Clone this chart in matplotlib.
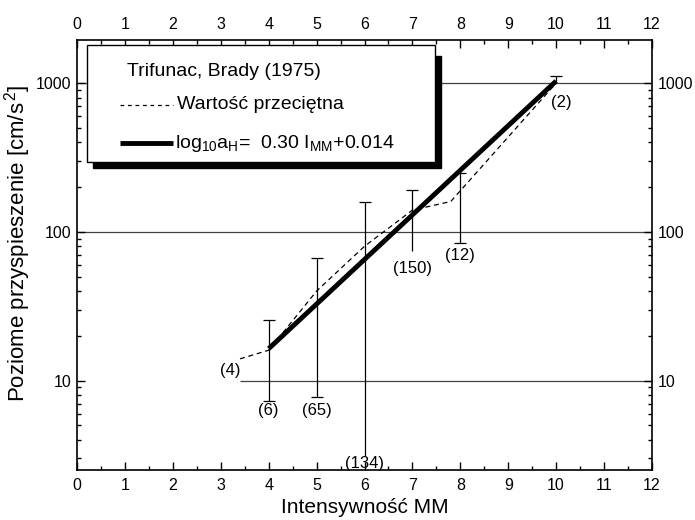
import numpy as np
import matplotlib.pyplot as plt
from matplotlib.patches import Rectangle
from matplotlib.ticker import FixedLocator, MultipleLocator, LogLocator, NullFormatter

plt.rcParams['font.family'] = ['Liberation Sans', 'DejaVu Sans']
plt.rcParams['mathtext.fontset'] = 'custom'
plt.rcParams['mathtext.rm'] = 'Liberation Sans'
plt.rcParams['mathtext.it'] = 'Liberation Sans'

# mean value curve (Wartosc przecietna)
mean_x = [3.4, 4, 5, 6, 7, 7.8, 10]
mean_y = [14, 16, 40, 80, 140, 160, 1000]

# fitted line log10 aH = 0.30 I_MM + 0.014, drawn between I=4 and I=10
fit_x = [4, 10]
fit_y = [16.4, 1033]

# scatter ranges for each intensity
err_x = [4, 5, 6, 7, 8, 10]
err_lo = [7.3, 7.7, 3.1, 74, 84, 1000]
err_hi = [25.7, 67, 160, 190, 248, 1115]
lo_cap = [True, True, False, False, True, False]

# number of records
count_x = [3.2, 4, 5, 6, 7, 8, 10.1]
count_y = [11.7, 6.3, 6.3, 2.76, 57, 69, 740]
count_txt = ['(4)', '(6)', '(65)', '(134)', '(150)', '(12)', '(2)']

grid_vals = [10, 100, 1000]
grid_from = [3.4, 0, 0]

fig = plt.figure(figsize=(6.95, 5.2), dpi=100)
ax = fig.add_axes([0.111, 0.096, 0.827, 0.827])
ax.set_yscale('log')
ax.set_xlim(0, 12)
ax.set_ylim(2.5, 1950)

for g, x0 in zip(grid_vals, grid_from):
    ax.hlines(g, x0, 12, color='0.25', lw=0.9, zorder=1)

ax.plot(mean_x, mean_y, color='black', lw=0.9, ls=(0, (4, 3)), zorder=2)
ax.plot(fit_x, fit_y, color='black', lw=3.5, solid_capstyle='butt', zorder=3)

ax.vlines(err_x, err_lo, err_hi, color='black', lw=0.9, zorder=2)
ax.plot(err_x, err_hi, ls='none', marker='_', ms=9, mew=0.9, color='black', zorder=2)
ax.plot([x for x, c in zip(err_x, lo_cap) if c], [y for y, c in zip(err_lo, lo_cap) if c],
        ls='none', marker='_', ms=9, mew=0.9, color='black', zorder=2)

for x, y, t in zip(count_x, count_y, count_txt):
    ax.text(x, y, t, ha='center', va='center', fontsize=12)

# axes and ticks
ax.xaxis.set_major_locator(MultipleLocator(1))
ax.xaxis.set_minor_locator(MultipleLocator(0.5))
ax.yaxis.set_major_locator(FixedLocator(grid_vals))
ax.set_yticklabels([str(v) for v in grid_vals])
ax.yaxis.set_minor_locator(LogLocator(base=10, subs=np.arange(2, 10)))
ax.yaxis.set_minor_formatter(NullFormatter())
ax.tick_params(which='both', direction='in', top=True, right=True,
               labeltop=True, labelright=True, labelsize=11.5, width=1)
ax.tick_params(which='major', length=6, pad=4)
ax.tick_params(axis='x', which='major', pad=6)
ax.tick_params(which='minor', length=3)
for s in ax.spines.values():
    s.set_linewidth(1.2)

ax.set_xlabel('Intensywność MM', fontsize=15)
ax.xaxis.set_label_coords(0.5, -0.065)
ax.set_ylabel('Poziome przyspieszenie [cm/s$^{\\,2}$]', fontsize=16)
ax.yaxis.set_label_coords(-0.077, 0.528)

# legend box with shadow
ax.add_patch(Rectangle((0.0278, 0.702), 0.605, 0.260, transform=ax.transAxes,
                       facecolor='black', edgecolor='black', zorder=5, clip_on=False))
ax.add_patch(Rectangle((0.0174, 0.716), 0.605, 0.272, transform=ax.transAxes,
                       facecolor='white', edgecolor='black', lw=1, zorder=6, clip_on=False))
ax.text(0.087, 0.926, 'Trifunac, Brady (1975)', transform=ax.transAxes,
        fontsize=14, va='center', zorder=7)
ax.plot([0.075, 0.167], [0.849, 0.849], transform=ax.transAxes, color='black',
        lw=0.9, ls=(0, (3, 3)), zorder=7)
ax.text(0.174, 0.849, 'Wartość przeciętna', transform=ax.transAxes,
        fontsize=14, va='center', zorder=7)
ax.plot([0.075, 0.167], [0.760, 0.760], transform=ax.transAxes, color='black',
        lw=3.5, solid_capstyle='butt', zorder=7)
ax.text(0.170, 0.760, 'log$_{10}$a$_{H}$=  0.30 I$_{MM}$+0.014', transform=ax.transAxes,
        fontsize=14, va='center', zorder=7)

fig.savefig('out.png', dpi=100)
